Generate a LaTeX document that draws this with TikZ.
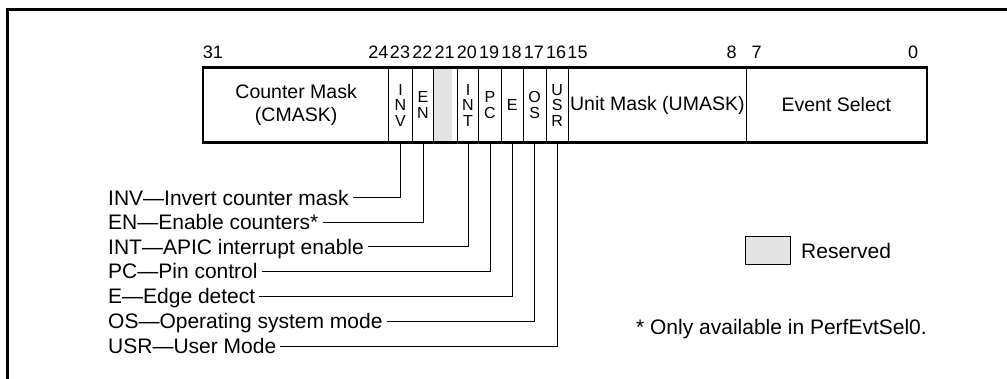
\documentclass[tikz,border=0pt]{standalone}
\usepackage{fontspec}
\setmainfont{Liberation Sans}
\definecolor{resgray}{RGB}{228,228,228}
\begin{document}
\begin{tikzpicture}[x=1pt,y=-1pt,
  frame/.style={line width=3pt},
  regbox/.style={line width=2.2pt},
  cellbox/.style={draw, line width=1pt, minimum height=74pt, inner sep=0pt, anchor=west, align=center},
  fieldtxt/.style={font=\fontsize{19.5}{23.5}\selectfont},
  bitlet/.style={font=\fontsize{16}{15.5}\selectfont},
  bitnum/.style={font=\fontsize{18}{22}\selectfont, anchor=base, inner sep=0pt},
  lbl/.style={font=\fontsize{21}{24}\selectfont, anchor=west, text height=15pt, text depth=0pt, inner xsep=4pt, inner ysep=0pt},
  conn/.style={line width=1pt},
]
\useasboundingbox (0,0) rectangle (1007,379);
% outer frame
\draw[frame] (7,379) -- (7,9.5) -- (1007,9.5);

% reserved fill
\coordinate (rsw) at (433.3,142);
\coordinate (rne) at (452.3,68);
\fill[resgray] (rsw) rectangle (rne);

% cells
\node[cellbox, fieldtxt, minimum width=185.3pt] (cmask) at (203,105) {Counter Mask\\(CMASK)};
\node[cellbox, bitlet, minimum width=23.4pt] (inv) at (388.3,105) {I\\N\\V};
\node[cellbox, bitlet, minimum width=21.6pt] (en) at (411.7,105) {E\\N};
\node[cellbox, minimum width=23.4pt] (res) at (433.3,105) {};
\node[cellbox, bitlet, minimum width=21.6pt] (int) at (456.7,105) {I\\N\\T};
\node[cellbox, bitlet, minimum width=22.4pt] (pc) at (478.3,105) {P\\C};
\node[cellbox, bitlet, minimum width=22pt] (edge) at (500.7,105) {E};
\node[cellbox, bitlet, minimum width=23pt] (os) at (522.7,105) {O\\S};
\node[cellbox, bitlet, minimum width=22pt] (usr) at (545.7,105) {U\\S\\R};
\node[cellbox, fieldtxt, minimum width=178.3pt] (umask) at (567.7,105) {Unit Mask (UMASK)};
\node[cellbox, fieldtxt, minimum width=179.7pt] (evsel) at (746,105) {Event Select};
\draw[regbox] (cmask.north west) rectangle (evsel.south east);

% bit numbers
\node[bitnum] (n31) at (213,58.5) {31};
\node[bitnum] (n24) at (378.3,58.5) {24};
\node[bitnum] (n23) at (400,58.5) {23};
\node[bitnum] (n22) at (422.3,58.5) {22};
\node[bitnum] (n21) at (444.6,58.5) {21};
\node[bitnum] (n20) at (466.9,58.5) {20};
\node[bitnum] (n19) at (489.2,58.5) {19};
\node[bitnum] (n18) at (511.5,58.5) {18};
\node[bitnum] (n17) at (533.8,58.5) {17};
\node[bitnum] (n16) at (556.1,58.5) {16};
\node[bitnum] (n15) at (577.5,58.5) {15};
\node[bitnum] (n8) at (731.7,58.5) {8};
\node[bitnum] (n7) at (756.7,58.5) {7};
\node[bitnum] (n0) at (913,58.5) {0};

% labels
\node[lbl] (linv) at (104,198) {INV—Invert counter mask};
\node[lbl] (len) at (104,222.5) {EN—Enable counters*};
\node[lbl] (lint) at (104,247) {INT—APIC interrupt enable};
\node[lbl] (lpc) at (104,271.5) {PC—Pin control};
\node[lbl] (le) at (104,296.5) {E—Edge detect};
\node[lbl] (los) at (104,321.5) {OS—Operating system mode};
\node[lbl] (lusr) at (104,346.5) {USR—User Mode};

\draw[conn] (linv.east) -| (inv.south);
\draw[conn] (len.east) -| (en.south);
\draw[conn] (lint.east) -| (int.south);
\draw[conn] (lpc.east) -| (pc.south);
\draw[conn] (le.east) -| (edge.south);
\draw[conn] (los.east) -| (os.south);
\draw[conn] (lusr.east) -| (usr.south);

% legend
\node[draw, fill=resgray, line width=1pt, minimum width=45pt, minimum height=28pt, inner sep=0pt] (legbox) at (768.2,251) {};
\node[lbl] (legtxt) at (797,251) {Reserved};
\node[lbl, anchor=east] (foot) at (931,327) {* Only available in PerfEvtSel0.};
\end{tikzpicture}
\end{document}
